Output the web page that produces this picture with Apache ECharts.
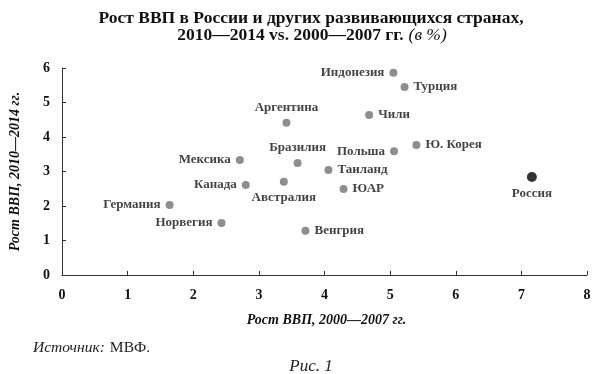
<!DOCTYPE html>
<html><head><meta charset="utf-8">
<script src="https://cdn.jsdelivr.net/npm/echarts@6/dist/echarts.min.js"></script>
<style>html,body{margin:0;padding:0;background:#fff}#c{width:595px;height:374px}</style>
</head><body><div id="c"></div>
<script>
const countries = ['Индонезия','Турция','Аргентина','Чили','Ю. Корея','Польша','Мексика','Бразилия','Таиланд','Россия','Австралия','Канада','ЮАР','Германия','Норвегия','Венгрия'];
const growth2000_2007 = [5.05,5.22,3.42,4.68,5.40,5.06,2.71,3.59,4.06,7.16,3.38,2.80,4.29,1.64,2.43,3.71];
const growth2010_2014 = [5.86,5.45,4.41,4.64,3.77,3.59,3.33,3.25,3.04,2.84,2.70,2.61,2.49,2.03,1.51,1.28];
const xTicks = [0,1,2,3,4,5,6,7,8];
const yTicks = [0,1,2,3,4,5,6];
const highlight = 'Россия';

const labelPlacement = {'Индонезия':'left','Турция':'right','Аргентина':'top','Чили':'right','Ю. Корея':'right','Польша':'left','Мексика':'left','Бразилия':'top','Таиланд':'right','Россия':'bottom','Австралия':'bottom','Канада':'left','ЮАР':'right','Германия':'left','Норвегия':'left','Венгрия':'right'};

const serif = '"Liberation Serif","DejaVu Serif",serif';
const data = countries.map((n,i)=>{
  const hl = n===highlight;
  return {
    name:n, value:[growth2000_2007[i], growth2010_2014[i]],
    symbolSize: hl?10:8,
    itemStyle:{color: hl?'#000':'#727272'},
    label:{show:true, formatter:n, position:labelPlacement[n], distance:5,
      color:'#111', fontFamily:serif, fontSize:13, fontWeight:'bold'}
  };
});

const chart = echarts.init(document.getElementById('c'));
chart.setOption({
  animation:false,
  title:[
    {text:'Рост ВВП в России и других развивающихся странах,', left:306, textAlign:'center', top:4,
     textStyle:{fontFamily:serif,fontSize:17.5,fontWeight:'bold',color:'#111'}},
    {text:'{b|2010—2014 vs. 2000—2007 гг.} {i|(в %)}', left:307, textAlign:'center', top:21,
     textStyle:{rich:{b:{fontFamily:serif,fontSize:17.5,fontWeight:'bold',color:'#111'},i:{fontFamily:serif,fontSize:17.5,fontStyle:'italic',fontWeight:'normal',color:'#111'}}}},
    {text:'{i|Источник:} {n|МВФ.}', left:28, top:334,
     textStyle:{rich:{i:{fontFamily:serif,fontSize:15.5,fontStyle:'italic',fontWeight:'normal',color:'#222'},n:{fontFamily:serif,fontSize:15.5,fontWeight:'normal',color:'#222'}}}},
    {text:'Рис. 1', left:306, textAlign:'center', top:353, textStyle:{fontFamily:serif,fontSize:17,fontStyle:'italic',fontWeight:'normal',color:'#222'}}
  ],
  grid:{left:61,right:8,top:68,bottom:99},
  xAxis:{type:'value',min:xTicks[0],max:xTicks[xTicks.length-1],interval:1,
    name:'Рост ВВП, 2000—2007 гг.',nameLocation:'middle',nameGap:38,
    nameTextStyle:{fontFamily:serif,fontSize:14,fontStyle:'italic',fontWeight:'bold',color:'#111',padding:[0,0,0,4]},
    axisLine:{lineStyle:{color:'#333',width:1}},
    axisTick:{inside:true,length:4,lineStyle:{color:'#333'}},
    axisLabel:{fontFamily:serif,fontSize:14,fontWeight:'bold',color:'#111',margin:13},
    splitLine:{show:false}},
  yAxis:{type:'value',min:yTicks[0],max:yTicks[yTicks.length-1],interval:1,
    name:'Рост ВВП, 2010—2014 гг.',nameLocation:'middle',nameGap:40,
    nameTextStyle:{fontFamily:serif,fontSize:14,fontStyle:'italic',fontWeight:'bold',color:'#111'},
    axisLine:{show:true,lineStyle:{color:'#333',width:1}},
    axisTick:{show:true,inside:true,length:4,lineStyle:{color:'#333'}},
    axisLabel:{fontFamily:serif,fontSize:14,fontWeight:'bold',color:'#111',margin:12},
    splitLine:{show:false}},
  series:[{type:'scatter',data:data}]
});
</script></body></html>
